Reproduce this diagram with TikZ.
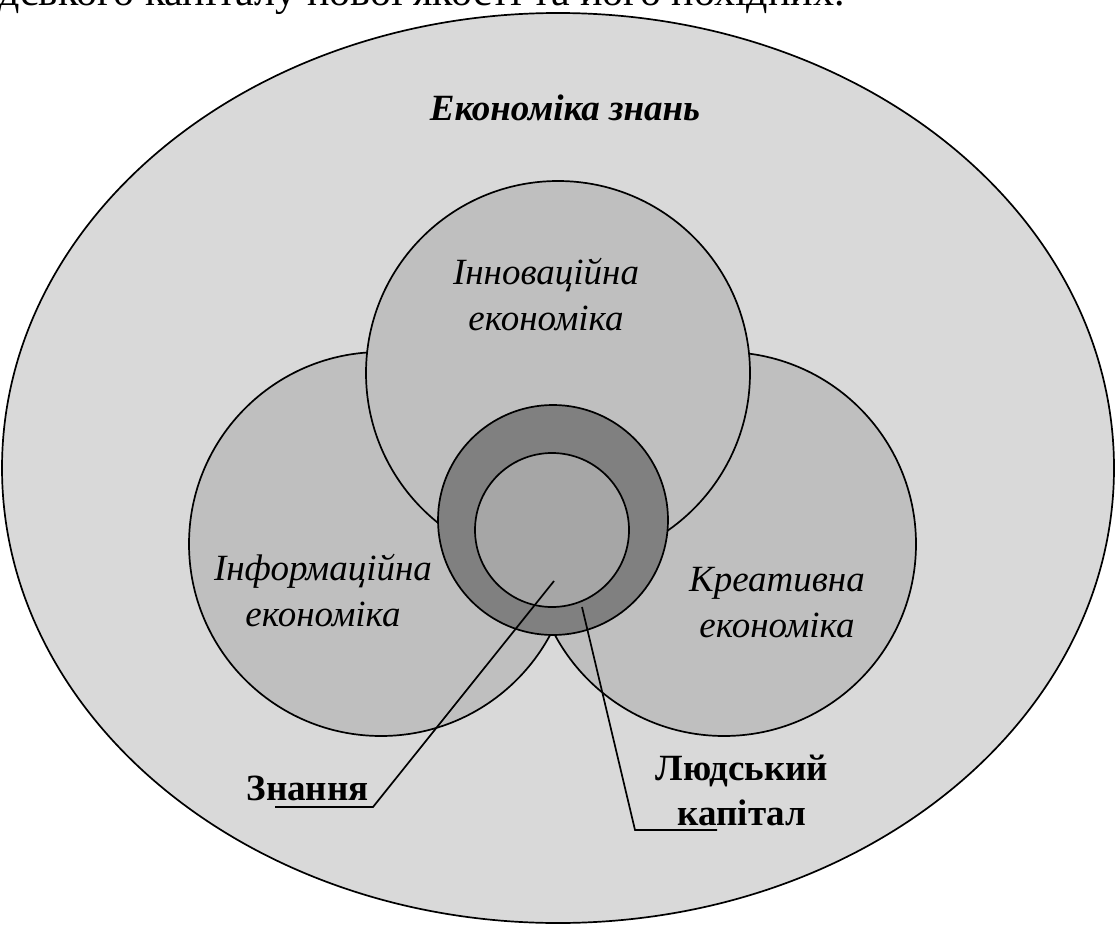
\documentclass[tikz,border=0pt]{standalone}
\usepackage{fontspec}
\setmainfont{Liberation Serif}
\usetikzlibrary{positioning,shapes.geometric}

\begin{document}
\begin{tikzpicture}[x=1pt,y=-1pt]
    \tikzset{zone/.style= {draw, circle
    , line width=1.7pt
    , minimum size=384pt
    , fill=black!25
      },
    lbl/.style={font=\fontsize{37}{46}\selectfont\itshape, align=center},
    call/.style={font=\fontsize{37}{45}\selectfont\bfseries, align=center}
    }
\useasboundingbox (0,0) rectangle (1115,925);
\clip (0,0) rectangle (1115,925);

\node [anchor=base east, font=\fontsize{42}{50}\selectfont] (prev) at (848,6)
  {людського капіталу нової якості та його похідних.};

\node [draw, ellipse, line width=1.7pt, fill=black!15
  , minimum width=1112pt, minimum height=910pt] (econ) at (558,468) {};
\node [zone] (info) at (381,544) {};
\node [zone] (crea) at (724,544) {};
\node [zone] (inno) at (558,373) {};
\node [draw, circle, line width=1.7pt, minimum size=230pt, fill=black!50] (cap) at (553,520) {};
\node [draw, circle, line width=1.7pt, minimum size=154pt, fill=black!35] (know) at (552,530) {};

\node [font=\fontsize{37}{45}\selectfont\bfseries\itshape, anchor=base] (econt) at (565,121) {Економіка знань};
\node [lbl] (innot) at (546,295) {Інноваційна\\економіка};
\node [lbl] (infot) at (323,591) {Інформаційна\\економіка};
\node [lbl] (creat) at (777,603) {Креативна\\економіка};

\node [call, anchor=base east] (knowt) at (372,800) {Знання};
\node [call, anchor=base] (capt) at (742,825) {Людський\\капітал};

\coordinate (knowpt) at (554,581);
\coordinate (knowbend) at (373,807);
\coordinate (knowend) at (275,807);
\coordinate (cappt) at (582,607);
\coordinate (capbend) at (635,830);
\coordinate (capend) at (717,830);

 \path[draw, line width=1.7pt]
  (knowpt) -- (knowbend) -- (knowend);
 \path[draw, line width=1.7pt]
  (cappt) -- (capbend) -- (capend);
\end{tikzpicture}
\end{document}
